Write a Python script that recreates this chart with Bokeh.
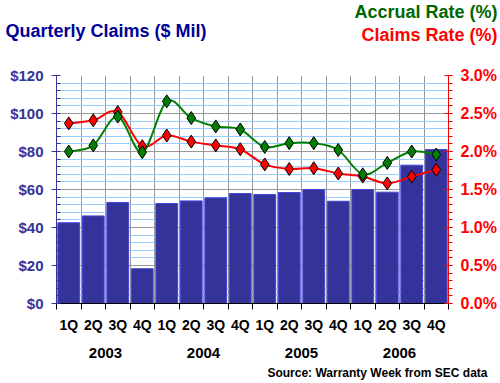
from bokeh.plotting import figure
from bokeh.models import (Range1d, LinearAxis, FixedTicker, SingleIntervalTicker, Grid,
                          NumeralTickFormatter, PrintfTickFormatter, Label, ColumnDataSource)
from bokeh.embed import file_html
from bokeh.resources import INLINE

quarters = ["1Q", "2Q", "3Q", "4Q"] * 4
years = ["2003", "2004", "2005", "2006"]
claims = [42.5, 46.1, 53.2, 18.3, 52.6, 54.0, 55.6, 57.9,
          57.4, 58.4, 60.0, 53.8, 60.0, 58.6, 72.8, 81.0]
accrual_rate = [2.00, 2.08, 2.46, 1.99, 2.66, 2.44, 2.33, 2.29,
                2.06, 2.11, 2.11, 2.02, 1.70, 1.85, 2.00, 1.96]
claims_rate = [2.37, 2.41, 2.52, 2.07, 2.21, 2.13, 2.08, 2.03,
               1.83, 1.77, 1.78, 1.71, 1.67, 1.58, 1.67, 1.76]

n = len(claims)
xc = [i + 0.5 for i in range(n)]

FONT = "Liberation Sans"
BLUE = "#333399"

p = figure(frame_width=392, frame_height=228, output_backend="svg", toolbar_location=None,
           x_range=Range1d(0, n), y_range=Range1d(0, 120),
           min_border_left=56, min_border_right=52, min_border_top=75, min_border_bottom=79,
           background_fill_color="white", border_fill_color="white")
p.outline_line_color = None
p.extra_y_ranges = {"rate": Range1d(0, 3)}

# grids
p.xgrid.visible = False
p.ygrid.visible = False
p.add_layout(Grid(dimension=0, ticker=FixedTicker(ticks=list(range(1, n))),
                  grid_line_color="#999999", grid_line_width=1))
p.add_layout(Grid(dimension=1, ticker=SingleIntervalTicker(interval=20, num_minor_ticks=5),
                  grid_line_color="#999999", minor_grid_line_color="#99ccff"), "center")

# bars
src = ColumnDataSource(dict(x=xc, claims=claims))
p.vbar(x="x", top="claims", width=0.89, source=src, fill_color=BLUE, line_color="#4444dd", line_width=1)

# smoothed lines via bezier
def bezier_parts(ys):
    pts = list(zip(xc, ys))
    x0, y0, x1, y1, cx0, cy0, cx1, cy1 = [], [], [], [], [], [], [], []
    for i in range(len(pts) - 1):
        pm = pts[max(i - 1, 0)]
        p0 = pts[i]
        p1 = pts[i + 1]
        p2 = pts[min(i + 2, len(pts) - 1)]
        x0.append(p0[0]); y0.append(p0[1]); x1.append(p1[0]); y1.append(p1[1])
        cx0.append(p0[0] + (p1[0] - pm[0]) / 6); cy0.append(p0[1] + (p1[1] - pm[1]) / 6)
        cx1.append(p1[0] - (p2[0] - p0[0]) / 6); cy1.append(p1[1] - (p2[1] - p0[1]) / 6)
    return dict(x0=x0, y0=y0, x1=x1, y1=y1, cx0=cx0, cy0=cy0, cx1=cx1, cy1=cy1)

for ys, col in [(claims_rate, "#ff0000"), (accrual_rate, "#008000")]:
    p.bezier(source=ColumnDataSource(bezier_parts(ys)), x0="x0", y0="y0", x1="x1", y1="y1",
             cx0="cx0", cy0="cy0", cx1="cx1", cy1="cy1", line_color=col, line_width=2,
             y_range_name="rate")
for ys, col in [(claims_rate, "#ff0000"), (accrual_rate, "#008000")]:
    p.scatter(xc, ys, marker="diamond", size=13, fill_color=col, line_color="black",
              line_width=1, y_range_name="rate")

# left axis
ya = p.yaxis[0]
ya.ticker = SingleIntervalTicker(interval=20, num_minor_ticks=5)
ya.formatter = NumeralTickFormatter(format="$0")
ya.axis_line_color = BLUE
ya.major_tick_line_color = BLUE
ya.minor_tick_line_color = BLUE
ya.major_tick_out = 5
ya.major_tick_in = 0
ya.minor_tick_in = 4
ya.minor_tick_out = 0
ya.major_label_text_color = BLUE
ya.major_label_text_font = FONT
ya.major_label_text_font_style = "bold"
ya.major_label_text_font_size = "15px"
ya.major_label_standoff = 8

# right axis
ra = LinearAxis(y_range_name="rate", ticker=SingleIntervalTicker(interval=0.5, num_minor_ticks=5),
                formatter=PrintfTickFormatter(format="%.1f%%"))
ra.axis_line_color = "#ff0000"
ra.major_tick_line_color = "#ff0000"
ra.minor_tick_line_color = "#ff0000"
ra.major_tick_in = 4
ra.major_tick_out = 4
ra.minor_tick_in = 0
ra.minor_tick_out = 4
ra.major_label_text_color = "#ff0000"
ra.major_label_text_font = FONT
ra.major_label_text_font_style = "bold"
ra.major_label_text_font_size = "16px"
ra.major_label_standoff = 8
p.add_layout(ra, "right")

# bottom axis with quarter labels
xa = p.xaxis[0]
xa.ticker = FixedTicker(ticks=xc, minor_ticks=list(range(0, n + 1)))
xa.major_label_overrides = {x: q for x, q in zip(xc, quarters)}
xa.axis_line_color = "black"
xa.major_tick_out = 0
xa.major_tick_in = 0
xa.minor_tick_line_color = "black"
xa.minor_tick_out = 6
xa.minor_tick_in = 0
xa.major_label_text_font = FONT
xa.major_label_text_font_style = "bold"
xa.major_label_text_font_size = "14px"
xa.major_label_text_color = "black"
xa.major_label_standoff = 7

year_pos = [2 + 4 * i for i in range(len(years))]
ya2 = LinearAxis(ticker=FixedTicker(ticks=year_pos),
                 major_label_overrides={x: y for x, y in zip(year_pos, years)})
ya2.axis_line_color = None
ya2.major_tick_line_color = None
ya2.minor_tick_line_color = None
ya2.major_tick_out = 0
ya2.major_tick_in = 0
ya2.major_label_text_font = FONT
ya2.major_label_text_font_style = "bold"
ya2.major_label_text_font_size = "15px"
ya2.major_label_text_color = "black"
ya2.major_label_standoff = 12
p.add_layout(ya2, "below")

# texts (canvas coordinates, placed in side panels so they are not clipped to the frame)
def add_label(text, x, ytop, color, size, align="left", side="above"):
    p.add_layout(Label(x=x, y=ytop, x_units="canvas", y_units="canvas", text=text,
                       text_color=color, text_font=FONT, text_font_style="bold",
                       text_font_size=size, text_align=align, text_baseline="top"), side)

add_label("Quarterly Claims ($ Mil)", 5, 20, "#000099", "18px")
add_label("Accrual Rate (%)", 497, 1, "#006600", "18px", "right")
add_label("Claims Rate (%)", 497, 24, "#ff0000", "18px", "right")
add_label("Source: Warranty Week from SEC data", 487, 365, "black", "12px", "right", "below")

open("out.html", "w").write(file_html(p, INLINE))
